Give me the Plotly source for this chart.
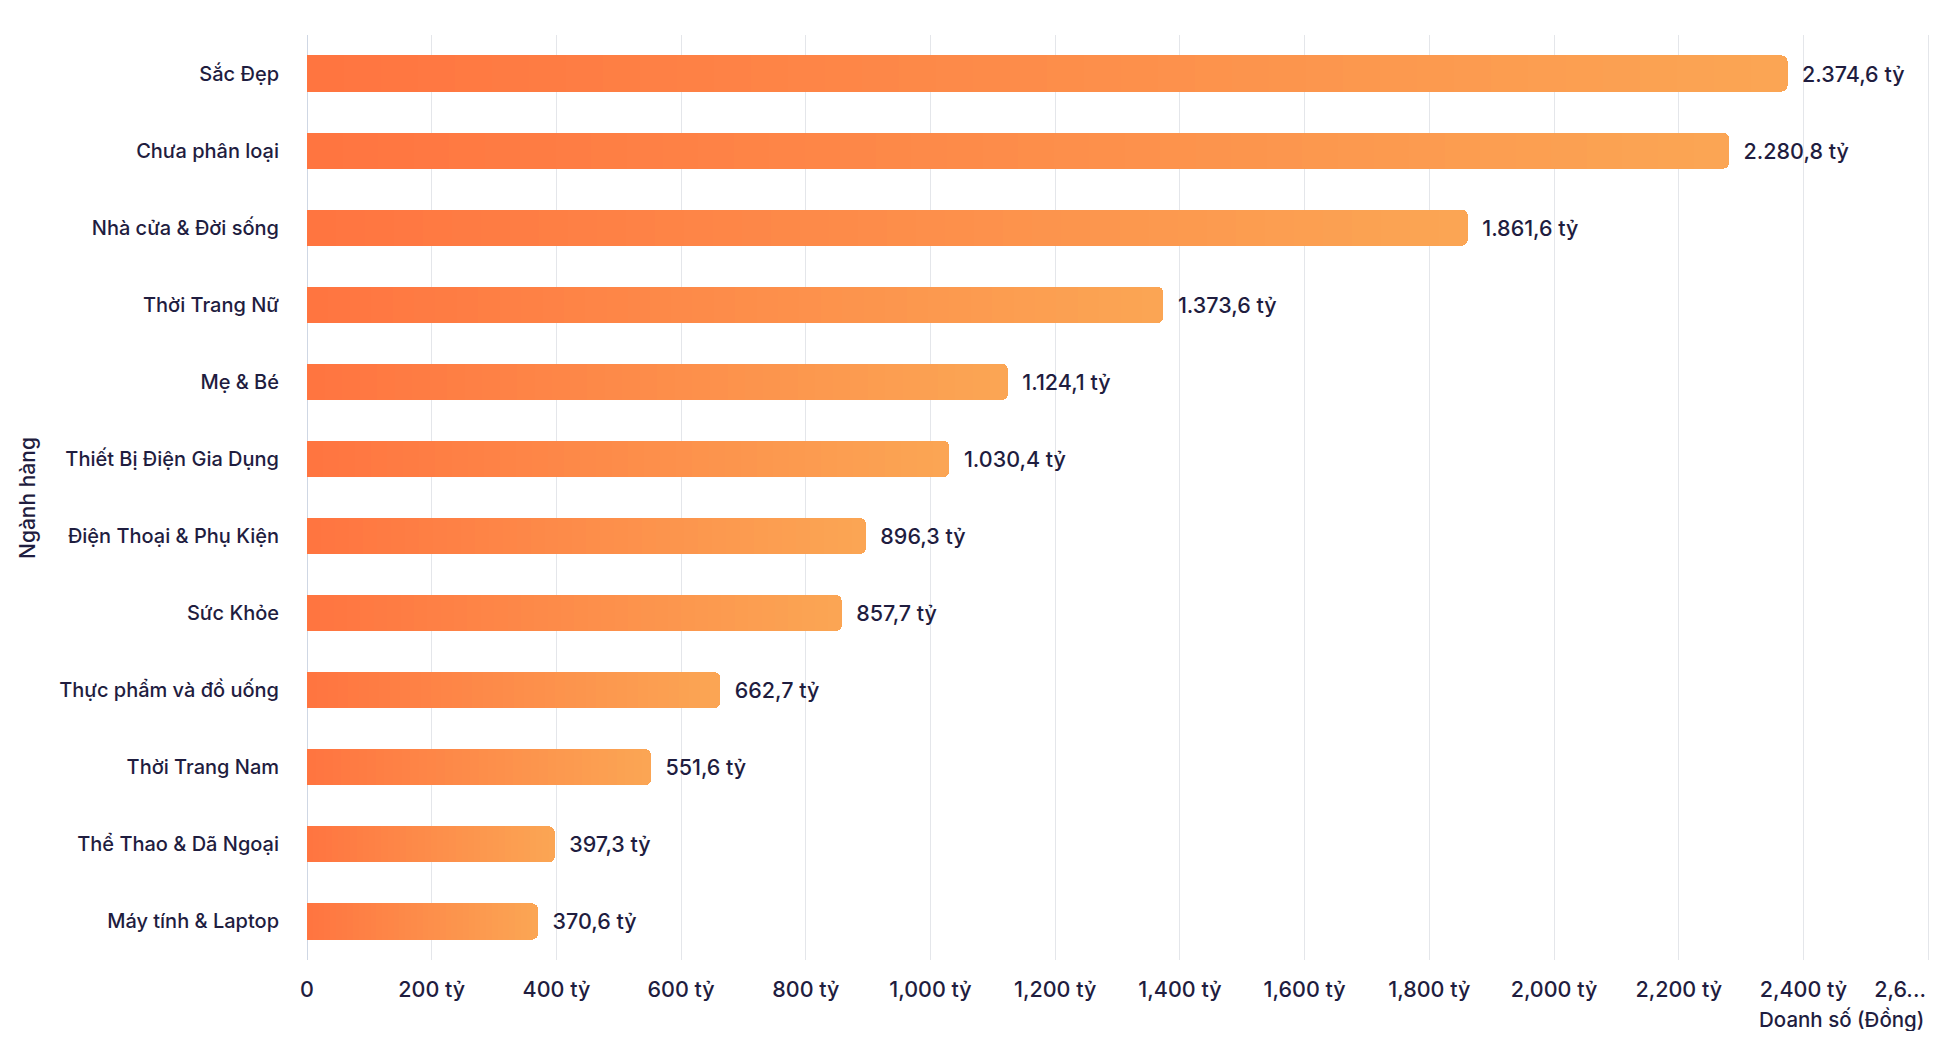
import plotly.graph_objects as go

# ---- data ----
categories = [
    "Sắc Đẹp", "Chưa phân loại", "Nhà cửa & Đời sống", "Thời Trang Nữ",
    "Mẹ & Bé", "Thiết Bị Điện Gia Dụng", "Điện Thoại & Phụ Kiện", "Sức Khỏe",
    "Thực phẩm và đồ uống", "Thời Trang Nam", "Thể Thao & Dã Ngoại", "Máy tính & Laptop",
]
values = [2374.6, 2280.8, 1861.6, 1373.6, 1124.1, 1030.4, 896.3, 857.7, 662.7, 551.6, 397.3, 370.6]
tick_values = [0, 200, 400, 600, 800, 1000, 1200, 1400, 1600, 1800, 2000, 2200, 2400, 2600]
tick_labels = ["0", "200 tỷ", "400 tỷ", "600 tỷ", "800 tỷ", "1,000 tỷ", "1,200 tỷ", "1,400 tỷ",
               "1,600 tỷ", "1,800 tỷ", "2,000 tỷ", "2,200 tỷ", "2,400 tỷ", "2,6..."]
x_title = "Doanh số (Đồng)"
y_title = "Ngành hàng"

TEXT = "#1f1d3f"
FONT = "Inter, Roboto, sans-serif"
C0 = (255, 116, 64)
C1 = (251, 166, 84)
N_SEG = 40


def vn_fmt(v):
    s = f"{v:,.1f}".replace(",", "X").replace(".", ",").replace("X", ".")
    return "\u00a0\u00a0" + s + " tỷ"


W, H = 1923, 1023
L, R, T, B = 299, 1, 27, 71
pw, ph = W - L - R, H - T - B
X_RANGE = [0, 2603]


def px_x(x):
    return (x - L) / pw


def px_y(y):
    return (H - B - y) / ph


fig = go.Figure()
for k in range(N_SEG):
    t = (k + 0.5) / N_SEG
    col = "rgb({},{},{})".format(*[round(a + (b - a) * t) for a, b in zip(C0, C1)])
    last = k == N_SEG - 1
    fig.add_trace(go.Bar(
        y=categories,
        x=[v / N_SEG for v in values],
        orientation="h",
        marker=dict(color=col, line=dict(width=0)),
        text=[vn_fmt(v) for v in values] if last else None,
        textposition="outside" if last else "none",
        textfont=dict(family=FONT, size=21.5, color=TEXT, weight=500),
        constraintext="none",
        cliponaxis=False,
        hoverinfo="skip",
        showlegend=False,
    ))

# empty helper trace so the overlay axis (carrying the truncated last tick label) is drawn
fig.add_trace(go.Scatter(x=[None], y=[None], xaxis="x2", yaxis="y", mode="markers",
                         hoverinfo="skip", showlegend=False))

tickfont = dict(family=FONT, size=21.5, color=TEXT, weight=500)

fig.update_layout(
    width=W, height=H,
    margin=dict(l=L, r=R, t=T, b=B, autoexpand=False),
    barmode="stack",
    bargap=0.53,
    barcornerradius=6,
    plot_bgcolor="white",
    paper_bgcolor="white",
    font=dict(family=FONT, color=TEXT, size=18),
    xaxis=dict(
        range=X_RANGE,
        tickmode="array",
        tickvals=tick_values[:-1],
        ticktext=tick_labels[:-1],
        showgrid=True,
        gridcolor="#e4e6ea",
        gridwidth=1,
        zeroline=True,
        zerolinecolor="#cfd7e4",
        zerolinewidth=1,
        showline=False,
        ticks="",
        ticklabelstandoff=14,
        tickfont=tickfont,
        automargin=False,
        fixedrange=True,
    ),
    xaxis2=dict(
        overlaying="x",
        anchor="y",
        side="bottom",
        range=X_RANGE,
        autorange=False,
        tickmode="array",
        tickvals=tick_values[-1:],
        ticktext=tick_labels[-1:],
        showgrid=True,
        gridcolor="#e4e6ea",
        zeroline=False,
        showline=False,
        ticks="",
        ticklabelstandoff=14,
        ticklabelshift=-28,
        ticklabeloverflow="allow",
        tickfont=tickfont,
        automargin=False,
        fixedrange=True,
    ),
    yaxis=dict(
        categoryorder="array",
        categoryarray=categories,
        autorange="reversed",
        showgrid=False,
        zeroline=False,
        showline=False,
        ticks="",
        ticklabelstandoff=27,
        tickfont=dict(family=FONT, size=20, color=TEXT, weight=500),
        automargin=False,
        fixedrange=True,
    ),
    annotations=[
        dict(text=x_title, xref="paper", yref="paper", x=px_x(1918), y=px_y(1011),
             xanchor="right", yanchor="middle", showarrow=False,
             font=dict(family=FONT, size=20.5, color=TEXT, weight=500)),
        dict(text=y_title, xref="paper", yref="paper", x=px_x(19), y=px_y(490),
             xanchor="center", yanchor="middle", textangle=-90, showarrow=False,
             font=dict(family=FONT, size=21, color=TEXT, weight=500)),
    ],
    hovermode=False,
)

fig.write_html("out.html")
